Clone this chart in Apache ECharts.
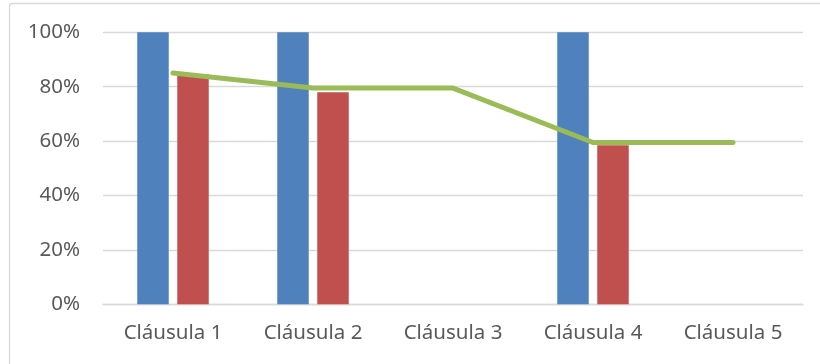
<!DOCTYPE html>
<html>
<head>
<meta charset="utf-8">
<script src="https://cdn.jsdelivr.net/npm/echarts@6/dist/echarts.min.js"></script>
<style>
  html, body { margin: 0; padding: 0; background: #ffffff; }
  #chart { width: 820px; height: 364px; }
</style>
</head>
<body>
<div id="chart"></div>
<script>
// Categories and series values (percent)
const categories = ['Cláusula 1', 'Cláusula 2', 'Cláusula 3', 'Cláusula 4', 'Cláusula 5'];
const blueValues = [100, 100, 0, 100, 0];
const redValues = [84.5, 78, 0, 58.5, 0];
const lineValues = [85, 79.5, 79.5, 59.5, 59.5];
const yTicks = [0, 20, 40, 60, 80, 100];

const FONT = '"Noto Sans", "Open Sans", sans-serif';
const chart = echarts.init(document.getElementById('chart'), null, { renderer: 'canvas' });

chart.setOption({
  animation: false,
  backgroundColor: '#ffffff',
  graphic: [{
    type: 'rect',
    shape: { x: 9.5, y: 3.5, width: 900, height: 500, r: 3 },
    style: { fill: 'none', stroke: '#d9d9d9', lineWidth: 1.3 },
    silent: true
  }],
  grid: { left: 103, right: 17, top: 32.3, bottom: 59.7 },
  xAxis: {
    type: 'category',
    data: categories,
    axisLine: { show: true, lineStyle: { color: '#d9d9d9', width: 1.3 } },
    axisTick: { show: false },
    axisLabel: { color: '#595959', fontFamily: FONT, fontSize: 20.5, margin: 18 }
  },
  yAxis: {
    type: 'value',
    min: yTicks[0],
    max: yTicks[yTicks.length - 1],
    interval: 20,
    axisLine: { show: false },
    axisTick: { show: false },
    splitLine: { lineStyle: { color: '#d9d9d9', width: 1.3 } },
    axisLabel: {
      color: '#595959', fontFamily: FONT, fontSize: 20.5, margin: 23,
      formatter: v => v + '%'
    }
  },
  series: [
    {
      type: 'bar',
      data: blueValues,
      barWidth: 31.5,
      barGap: '27%',
      itemStyle: { color: '#4F81BD' }
    },
    {
      type: 'bar',
      data: redValues,
      barWidth: 31.5,
      itemStyle: { color: '#C0504D' }
    },
    {
      type: 'line',
      data: lineValues,
      symbol: 'none',
      z: 5,
      lineStyle: { color: '#9BBB59', width: 5, cap: 'round', join: 'round' }
    }
  ]
});
</script>
</body>
</html>
